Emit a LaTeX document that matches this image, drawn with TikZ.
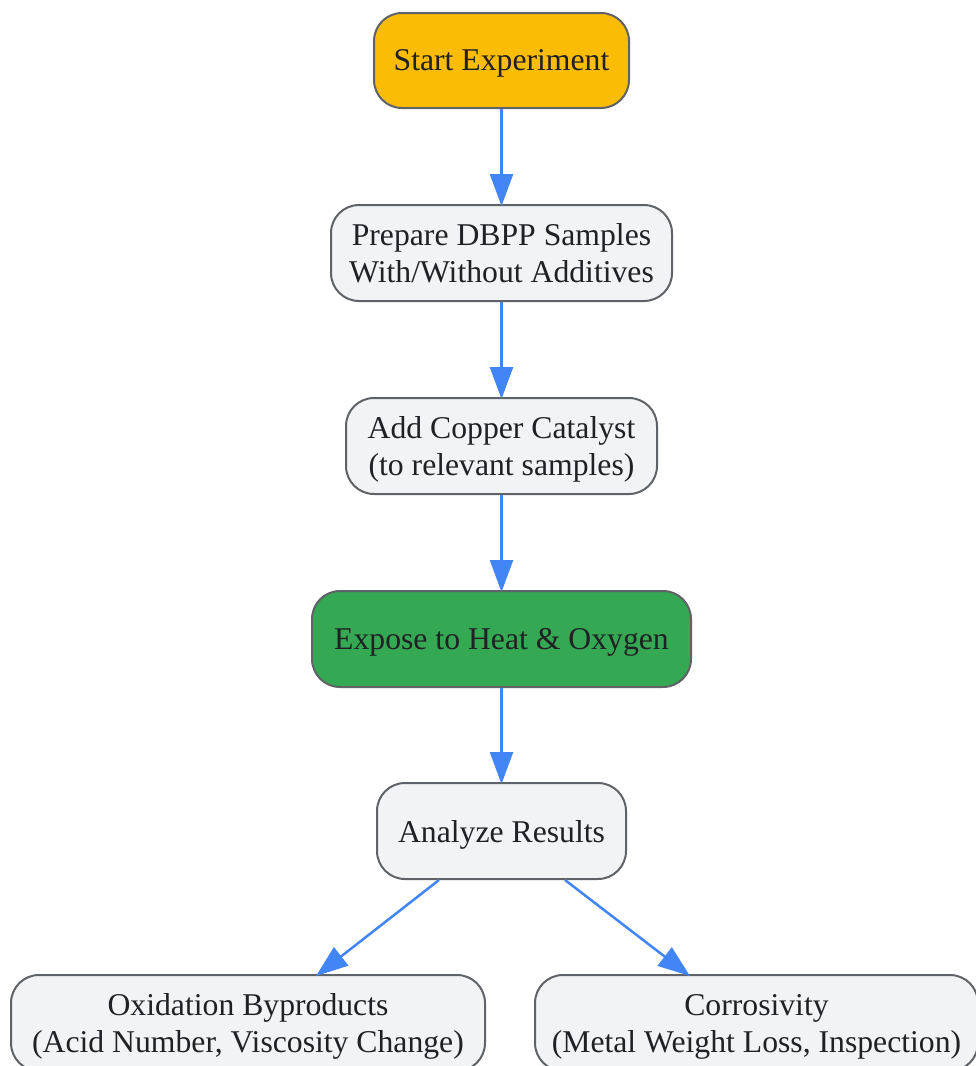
\documentclass[tikz,border=0pt]{standalone}
\usepackage{fontspec}
\setmainfont{Liberation Serif}
\usetikzlibrary{arrows.meta,calc}
\definecolor{gyellow}{HTML}{FBBC05}
\definecolor{ggreen}{HTML}{34A853}
\definecolor{glight}{HTML}{F1F3F4}
\definecolor{gborder}{HTML}{5F6368}
\definecolor{gtext}{HTML}{202124}
\definecolor{gblue}{HTML}{4285F4}
\begin{document}
\begin{tikzpicture}[x=1pt,y=-1pt,
  box/.style={draw=gborder,line width=2pt,rounded corners=28pt,fill=glight,
    minimum height=96pt,inner sep=0pt,align=center,text=gtext,text depth=0pt,
    font=\fontsize{31.7}{37}\selectfont},
  arr/.style={draw=gblue,line width=2.5pt,-{Triangle[length=32pt,width=23pt]}}]
\useasboundingbox (0,0) rectangle (976,1066);
\clip (0,0) rectangle (976,1066);
\node[box,fill=gyellow,minimum width=255pt,minimum height=95pt] (start) at (501.5,60.5) {Start Experiment};
\node[box,minimum width=341pt] (prep) at (501.5,253) {Prepare DBPP Samples\\With/Without Additives};
\node[box,minimum width=311pt] (copper) at (501.5,446) {Add Copper Catalyst\\(to relevant samples)};
\node[box,fill=ggreen,minimum width=379pt] (expose) at (501.5,639) {Expose to Heat \& Oxygen};
\node[box,minimum width=249pt] (analyze) at (501.5,831) {Analyze Results};
\node[box,minimum width=474pt] (ox) at (248,1023) {Oxidation Byproducts\\(Acid Number, Viscosity Change)};
\node[box,minimum width=443pt] (corr) at (756.5,1023) {Corrosivity\\(Metal Weight Loss, Inspection)};
\draw[arr] (start) -- ([yshift=-2pt]prep.north);
\draw[arr] (prep) -- ([yshift=-2pt]copper.north);
\draw[arr] (copper) -- ([yshift=-2pt]expose.north);
\draw[arr] (expose) -- ([yshift=-2pt]analyze.north);
\draw[arr] ([xshift=-62.5pt]analyze.south) -- ([xshift=68pt,yshift=-2pt]ox.north);
\draw[arr] ([xshift=63.5pt]analyze.south) -- ([xshift=-66.5pt,yshift=-2pt]corr.north);
\end{tikzpicture}
\end{document}
